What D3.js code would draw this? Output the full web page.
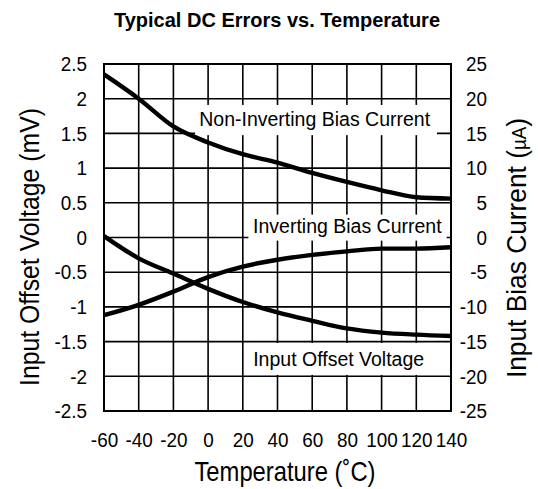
<!DOCTYPE html>
<html><head><meta charset="utf-8">
<script src="https://cdn.jsdelivr.net/npm/d3@7"></script>
<style>
body{margin:0;background:#fff;}
svg{display:block;}
text{fill:#000;}
</style></head>
<body><svg id="c" width="538" height="489"></svg>
<script>
const temps = [-60,-40,-20,0,20,40,60,80,100,120,140];
const offsetVoltage = [0.02,-0.30,-0.52,-0.74,-0.93,-1.08,-1.20,-1.31,-1.37,-1.40,-1.42];
const nonInvBias = [23.5,20.0,16.0,13.7,12.0,10.8,9.3,8.0,6.8,5.8,5.6];
const invBias = [-11.2,-9.7,-7.8,-5.7,-4.2,-3.2,-2.5,-2.0,-1.6,-1.6,-1.4];
const xTicks = [-60,-40,-20,0,20,40,60,80,100,120,140];
const leftTicks = [-2.5,-2,-1.5,-1,-0.5,0,0.5,1,1.5,2,2.5];
const rightTicks = [-25,-20,-15,-10,-5,0,5,10,15,20,25];
const title = "Typical DC Errors vs. Temperature";
const xTitle = "Temperature (˚C)";
const leftTitle = "Input Offset Voltage (mV)";
const rightTitle = "Input Bias Current (";
const labels = ["Non-Inverting Bias Current","Inverting Bias Current","Input Offset Voltage"];

const svg = d3.select("#c");
const L=104, R=451, T=64, B=411;
const FN = "'Liberation Sans',Arial,Helvetica,sans-serif";
const x = d3.scaleLinear().domain([-60,140]).range([L,R]);
const yL = d3.scaleLinear().domain([-2.5,2.5]).range([B,T]);
const yR = d3.scaleLinear().domain([-25,25]).range([B,T]);

// condense a text element horizontally (in its own frame)
function condense(sel, sx){
  sel.each(function(){
    const t = d3.select(this);
    const xa = +(t.attr("x")||0);
    const tr = t.attr("transform")||"";
    t.attr("x", xa/sx).attr("transform", (tr?tr+" ":"")+`scale(${sx},1)`);
  });
}

// grid
const g = svg.append("g");
g.selectAll("line.v").data(xTicks).join("line")
  .attr("x1",d=>x(d)).attr("x2",d=>x(d)).attr("y1",T).attr("y2",B)
  .attr("stroke","#000").attr("stroke-width",1.6);
g.selectAll("line.h").data(leftTicks).join("line")
  .attr("y1",d=>yL(d)).attr("y2",d=>yL(d)).attr("x1",L).attr("x2",R)
  .attr("stroke","#000").attr("stroke-width",1.6);

// label background boxes
const boxes = [
  {x0:-7.5, x1:131.9, y0:1.91, y1:1.475},
  {x0:23.2, x1:137.5, y0:0.33, y1:-0.045},
  {x0:23.2, x1:130.8, y0:-1.52, y1:-1.98}
];
svg.selectAll("rect.bx").data(boxes).join("rect")
  .attr("x",d=>x(d.x0)).attr("y",d=>yL(d.y0))
  .attr("width",d=>x(d.x1)-x(d.x0)).attr("height",d=>yL(d.y1)-yL(d.y0))
  .attr("fill","#fff");

// border
svg.append("rect").attr("x",L).attr("y",T).attr("width",R-L).attr("height",B-T)
  .attr("fill","none").attr("stroke","#000").attr("stroke-width",2);

// curves
const lineL = d3.line().x((d,i)=>x(temps[i])).y(d=>yL(d)).curve(d3.curveMonotoneX);
const lineR = d3.line().x((d,i)=>x(temps[i])).y(d=>yR(d)).curve(d3.curveMonotoneX);
svg.append("path").attr("d",lineL(offsetVoltage)).attr("fill","none").attr("stroke","#000").attr("stroke-width",4.4);
svg.append("path").attr("d",lineR(nonInvBias)).attr("fill","none").attr("stroke","#000").attr("stroke-width",4.4);
svg.append("path").attr("d",lineR(invBias)).attr("fill","none").attr("stroke","#000").attr("stroke-width",4.4);

// axes (labels only)
const fmt = d => String(d);
const ax = svg.append("g").attr("transform",`translate(0,${B})`)
  .call(d3.axisBottom(x).tickValues(xTicks).tickSize(0).tickPadding(21).tickFormat(fmt));
const al = svg.append("g").attr("transform",`translate(${L},0)`)
  .call(d3.axisLeft(yL).tickValues(leftTicks).tickSize(0).tickPadding(17).tickFormat(fmt));
const ar = svg.append("g").attr("transform",`translate(${R},0)`)
  .call(d3.axisRight(yR).tickValues(rightTicks).tickSize(0).tickPadding(36).tickFormat(fmt));
ar.selectAll("text").attr("text-anchor","end");
[ax,al,ar].forEach(a=>{
  a.select(".domain").remove();
  a.selectAll("text").attr("font-family",FN).attr("font-size",21).attr("fill","#000");
  condense(a.selectAll("text"), 0.9);
});

// title
svg.append("text").attr("x",277).attr("y",27).attr("text-anchor","middle")
  .attr("font-family",FN).attr("font-weight","bold")
  .attr("font-size",20).text(title);

// axis titles
condense(svg.append("text").attr("x",285).attr("y",481).attr("text-anchor","middle")
  .attr("font-family",FN).attr("font-size",28).text(xTitle), 0.85);
condense(svg.append("text").attr("transform","translate(39,247) rotate(-90)").attr("text-anchor","middle")
  .attr("font-family",FN).attr("font-size",28).text(leftTitle), 0.886);
const rt = svg.append("text").attr("transform","translate(526,248) rotate(-90)").attr("text-anchor","middle")
  .attr("font-family",FN).attr("font-size",28);
rt.append("tspan").text(rightTitle);
rt.append("tspan").attr("font-size",20).text("µA");
rt.append("tspan").text(")");
condense(rt, 0.94);

// curve labels
const lpos = [{t:-5.1,v:1.60},{t:25.9,v:0.065},{t:26.0,v:-1.847}];
svg.selectAll("text.lab").data(labels).join("text").attr("class","lab")
  .attr("x",(d,i)=>x(lpos[i].t)).attr("y",(d,i)=>yL(lpos[i].v))
  .attr("font-family",FN).attr("font-size",19.5).text(d=>d);
</script></body></html>
